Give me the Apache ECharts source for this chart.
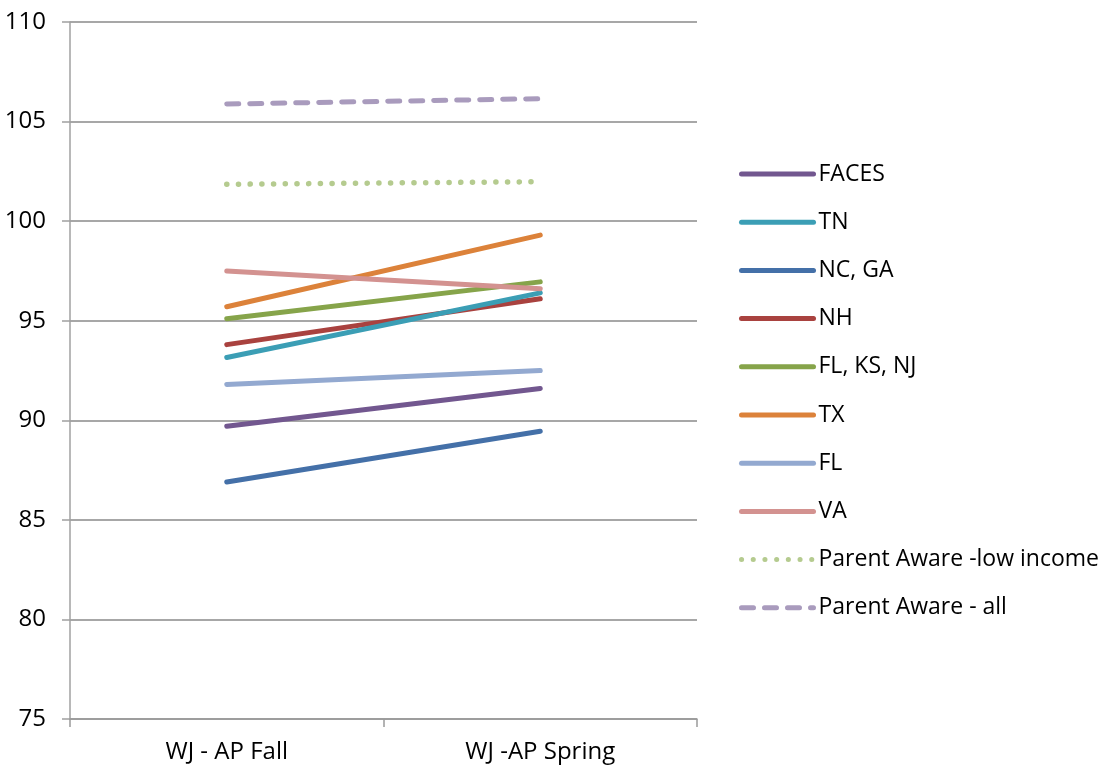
<!DOCTYPE html>
<html>
<head>
<meta charset="utf-8">
<script src="https://cdn.jsdelivr.net/npm/echarts@6/dist/echarts.min.js"></script>
<style>
  html, body { margin: 0; padding: 0; background: #ffffff; }
  #chart { width: 1105px; height: 769px; }
</style>
</head>
<body>
<div id="chart"></div>
<script>
// Assessment points
const categories = ['WJ - AP Fall', 'WJ -AP Spring'];

// Mean scores per program / state
const faces   = [89.7, 91.6];
const tn      = [93.15, 96.4];
const ncGa    = [86.9, 89.45];
const nh      = [93.8, 96.1];
const flKsNj  = [95.1, 96.95];
const tx      = [95.7, 99.3];
const fl      = [91.8, 92.5];
const va      = [97.5, 96.6];
const paLow   = [101.85, 101.98];
const paAll   = [105.88, 106.15];

// Y-axis scale
const yMin = 75, yMax = 110, yStep = 5;

const FONT = '"Open Sans", "Liberation Sans", sans-serif';

function lineSeries(name, data, color, type, width) {
  return {
    name: name,
    type: 'line',
    data: data,
    symbol: 'none',
    lineStyle: { color: color, width: width || 5, type: type || 'solid', cap: 'round' },
    itemStyle: { color: color },
    emphasis: { disabled: true },
    animation: false
  };
}

const series = [
  lineSeries('Parent Aware - all', paAll, '#A99BBD', [12, 11], 5),
  lineSeries('Parent Aware -low income', paLow, '#B5CB8F', [0.1, 11.6], 5.5),
  lineSeries('FACES', faces, '#72578F'),
  lineSeries('NC, GA', ncGa, '#4470A8'),
  lineSeries('FL', fl, '#93A9D0'),
  lineSeries('NH', nh, '#A9423F'),
  lineSeries('TN', tn, '#3B9EB5'),
  lineSeries('TX', tx, '#DC823A'),
  lineSeries('FL, KS, NJ', flKsNj, '#86A44A'),
  lineSeries('VA', va, '#D39290')
];

const chart = echarts.init(document.getElementById('chart'), null, { renderer: 'canvas' });
chart.setOption({
  backgroundColor: '#ffffff',
  animation: false,
  grid: { left: 70, right: 408, top: 22, bottom: 50, containLabel: false },
  legend: {
    orient: 'vertical',
    left: 734,
    top: 157,
    itemWidth: 72,
    itemHeight: 24,
    itemGap: 24.2,
    selectedMode: false,
    data: ['FACES', 'TN', 'NC, GA', 'NH', 'FL, KS, NJ', 'TX', 'FL', 'VA',
           'Parent Aware -low income', 'Parent Aware - all'],
    // line-only key: hide the marker drawn at the middle of each key line
    itemStyle: { color: 'rgba(0,0,0,0)', borderWidth: 0 },
    lineStyle: { width: 5, cap: 'round' },
    textStyle: { fontFamily: FONT, fontSize: 23, color: '#000000', lineHeight: 24 }
  },
  xAxis: {
    type: 'category',
    data: categories,
    boundaryGap: true,
    axisLine: { lineStyle: { color: '#9a9a9a', width: 1.5 } },
    axisTick: { show: true, length: 8, alignWithLabel: false, lineStyle: { color: '#9a9a9a', width: 1.5 } },
    axisLabel: { margin: 21, fontFamily: FONT, fontSize: 24, color: '#000000' },
    splitLine: { show: false }
  },
  yAxis: {
    type: 'value',
    min: yMin,
    max: yMax,
    interval: yStep,
    axisLine: { show: true, lineStyle: { color: '#a0a0a0', width: 1.5 } },
    axisTick: { show: true, length: 8, lineStyle: { color: '#a0a0a0', width: 1.5 } },
    axisLabel: { margin: 24, fontFamily: FONT, fontSize: 24, color: '#000000' },
    splitLine: { show: true, lineStyle: { color: '#8a8a8a', width: 1.5 } }
  },
  series: series
});
</script>
</body>
</html>
